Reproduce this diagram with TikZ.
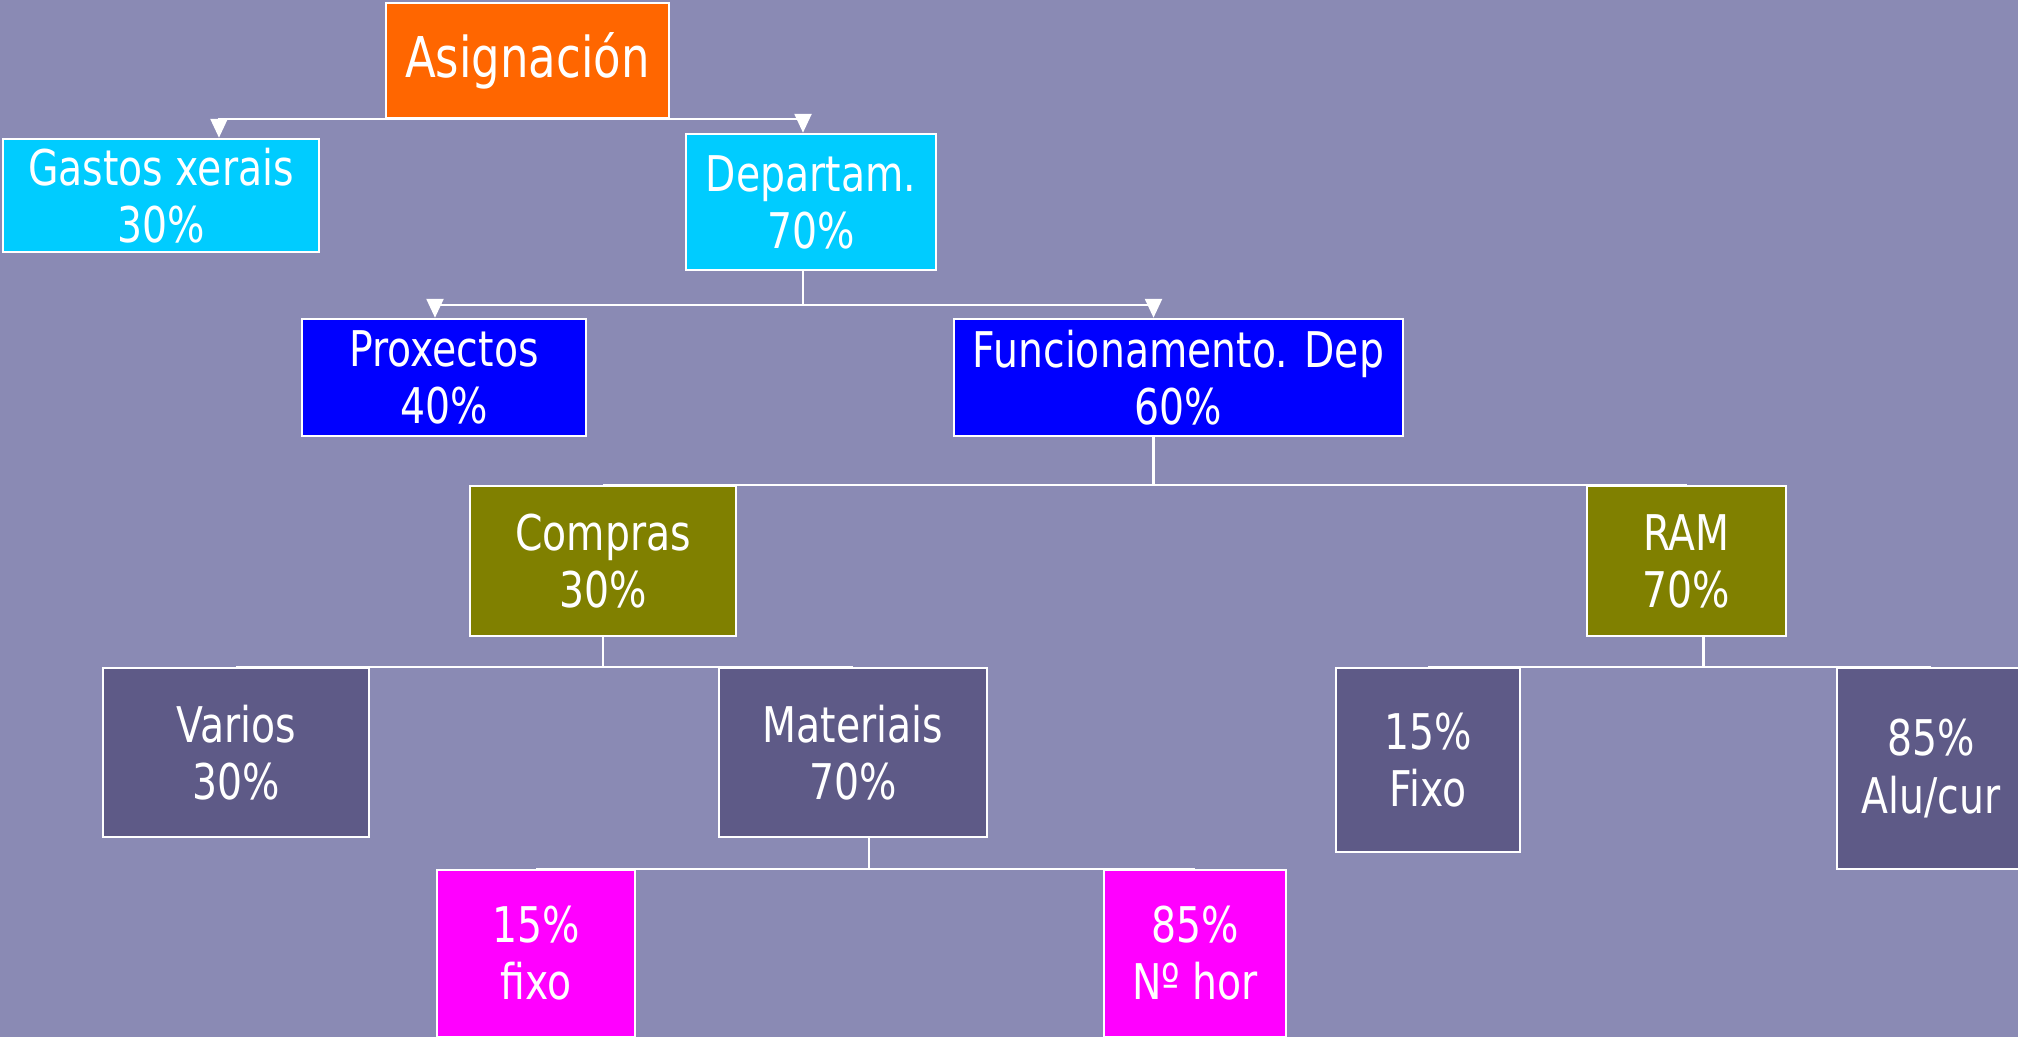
\documentclass[tikz,border=0pt]{standalone}
\usepackage{fontspec}
\setmainfont{DejaVu Sans}[FakeStretch=0.8]
\usetikzlibrary{arrows.meta}
\definecolor{fondo}{RGB}{138,138,180}
\definecolor{laranxa}{RGB}{255,102,0}
\definecolor{ceo}{RGB}{0,204,255}
\definecolor{azul}{RGB}{0,0,255}
\definecolor{oliva}{RGB}{128,128,0}
\definecolor{lousa}{RGB}{94,90,135}
\definecolor{maxenta}{RGB}{255,0,255}

\begin{document}
\begin{tikzpicture}
        [x=0.02cm, y=-0.02cm,
         caixa/.style={draw=white, line width=1.4pt, text=white, align=center,
             inner sep=0pt, font=\fontsize{28}{32.5}\selectfont},
         linea/.style={white, line width=1.4pt},
         frecha/.style={linea, -{Triangle[width=0.34cm, length=0.38cm]}}]
        \fill[fondo] (0,0) rectangle (2018,1037);
        \useasboundingbox (0,0) rectangle (2018,1037);
        % primeiro nivel
        \node[caixa, fill=laranxa, minimum width=5.66cm, minimum height=2.3cm,
            font=\fontsize{32}{36}\selectfont]
            (asig) at (527.5,60.5) {Asignación};
        \node[caixa, fill=ceo, minimum width=6.32cm, minimum height=2.26cm]
            (gastos) at (161,195.5) {Gastos xerais\\30\%};
        \node[caixa, fill=ceo, minimum width=5cm, minimum height=2.72cm]
            (depart) at (811,202) {Departam.\\70\%};
        \node[caixa, fill=azul, minimum width=5.68cm, minimum height=2.34cm]
            (proxec) at (444,377.5) {Proxectos\\40\%};
        \node[caixa, fill=azul, minimum width=8.98cm, minimum height=2.34cm]
            (funcion) at (1178.5,377.5) {Funcionamento. Dep\\60\%};
        \node[caixa, fill=oliva, minimum width=5.32cm, minimum height=3cm]
            (compras) at (603,561) {Compras\\30\%};
        \node[caixa, fill=oliva, minimum width=3.98cm, minimum height=3cm]
            (ram) at (1686.5,561) {RAM\\70\%};
        \node[caixa, fill=lousa, minimum width=5.32cm, minimum height=3.38cm]
            (varios) at (236,752.5) {Varios\\30\%};
        \node[caixa, fill=lousa, minimum width=5.36cm, minimum height=3.38cm]
            (mater) at (853,752.5) {Materiais\\70\%};
        \node[caixa, fill=lousa, minimum width=3.68cm, minimum height=3.68cm]
            (fixo) at (1428,760) {15\%\\Fixo};
        \node[caixa, fill=lousa, minimum width=3.76cm, minimum height=4.02cm]
            (alucur) at (1931,768.5) {85\%\\Alu/cur};
        \node[caixa, fill=maxenta, minimum width=3.96cm, minimum height=3.34cm]
            (matfixo) at (536,953.5) {15\%\\fixo};
        \node[caixa, fill=maxenta, minimum width=3.64cm, minimum height=3.34cm]
            (horas) at (1195,953.5) {85\%\\Nº hor};
        % conectores
        \draw[frecha] (asig.south) -| ([xshift=1.16cm]gastos.north);
        \draw[frecha] (asig.south) -| ([xshift=-0.16cm]depart.north);
        \draw[frecha] ([xshift=-0.16cm]depart.south) -- ++(0,34)
            -| ([xshift=-0.18cm]proxec.north);
        \draw[frecha] ([xshift=-0.16cm]depart.south) -- ++(0,34)
            -| ([xshift=-0.5cm]funcion.north);
        \draw[linea] ([xshift=-0.5cm]funcion.south) |- (compras.north);
        \draw[linea] ([xshift=-0.5cm]funcion.south) |- (ram.north);
        \draw[linea] (compras.south) |- (varios.north);
        \draw[linea] (compras.south) |- (mater.north);
        \draw[linea] ([xshift=0.34cm]ram.south) |- (fixo.north);
        \draw[linea] ([xshift=0.34cm]ram.south) |- (alucur.north);
        \draw[linea] ([xshift=0.32cm]mater.south) |- (matfixo.north);
        \draw[linea] ([xshift=0.32cm]mater.south) |- (horas.north);
    \end{tikzpicture}
\end{document}
